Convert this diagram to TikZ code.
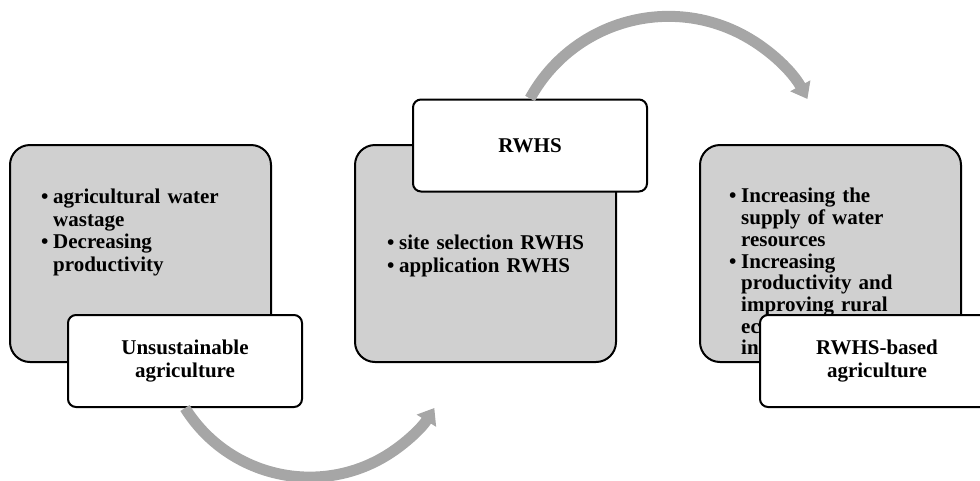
\documentclass[tikz,border=0pt]{standalone}
\usepackage{fontspec}
\setmainfont{Liberation Serif}
\usetikzlibrary{arrows.meta,positioning,calc}
\definecolor{boxgray}{RGB}{208,208,208}
\definecolor{arrowgray}{RGB}{166,166,166}
\hyphenpenalty=10000
\exhyphenpenalty=10000
\newcommand{\bitem}{\par\noindent\hangindent=12pt\hangafter=1\makebox[12pt][l]{\textbullet}}

\begin{document}
\begin{tikzpicture}[
    x=1pt, y=-1pt,
    node distance=82pt,
    graybox/.style={
      draw, line width=2pt, fill=boxgray, rounded corners=20pt,
      minimum width=261pt, minimum height=217pt, inner sep=0pt
    },
    whitebox/.style={
      draw, line width=2pt, fill=white, rounded corners=8pt,
      minimum width=234pt, minimum height=92pt, align=center,
      font=\fontsize{21}{22.5}\selectfont\bfseries
    },
    bullets/.style={
      anchor=north west, text width=190pt, align=left, inner sep=0pt,
      font=\fontsize{21}{22.5}\selectfont\bfseries
    },
    cyclearr/.style={draw=arrowgray, line width=11pt,
                     -{Triangle[width=22pt,length=15pt]}},
  ]

  \useasboundingbox (0,0) rectangle (980,480);

  % --- Gray stage boxes ---
  \node[graybox] (g1) at (140.5,253.5) {};
  \node[graybox, right=of g1] (g2) {};
  \node[graybox, right=of g2] (g3) {};

  % Bullet texts
  \node[bullets] (t1) at ($(g1.north west)+(32,37)$)
    {\bitem agricultural water wastage
     \bitem Decreasing productivity\par};
  \node[bullets, text width=205pt] (t2) at ($(g2.north west)+(33,83)$)
    {\bitem site selection RWHS
     \bitem application RWHS\par};
  \node[bullets, font=\fontsize{21}{21.7}\selectfont\bfseries] (t3)
    at ($(g3.north west)+(30,37)$)
    {\bitem Increasing the supply of water resources
     \bitem Increasing productivity and improving rural economic\newline
     income\par};

  % --- White title boxes ---
  \node[whitebox] (w1) at (185,361) {Unsustainable\\agriculture};
  \node[whitebox] (w2) at (530,145.5) {RWHS};
  \node[whitebox] (w3) at (877,361) {RWHS-based\\agriculture};

  % --- Cycle arrows ---
  \draw[cyclearr] (w1.south) arc[start angle=148, end angle=32, radius=147];
  \draw[cyclearr] (w2.north) arc[start angle=208.7, end angle=331.5, radius=158];

\end{tikzpicture}
\end{document}
